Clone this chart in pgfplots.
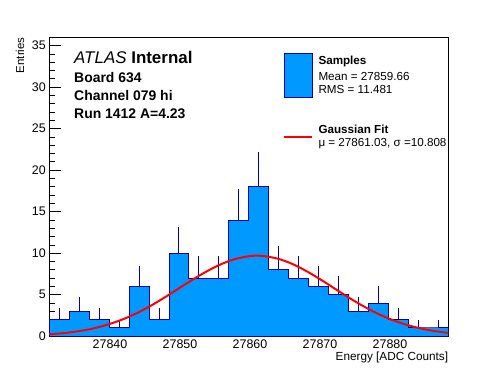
\documentclass[border=0pt]{standalone}
\usepackage{fontspec}
\setmainfont{Liberation Sans}
\usepackage{pgfplots}
\pgfplotsset{compat=1.18}
\definecolor{histfill}{RGB}{0,153,255}
\definecolor{histedge}{RGB}{0,0,170}
\begin{document}
\begin{tikzpicture}
\path[use as bounding box] (0,0) rectangle (498bp,374bp);
\begin{axis}[
  at={(49.3bp,37.7bp)}, anchor=south west, scale only axis,
  width=399bp, height=299bp,
  xmin=27831.33, xmax=27888.33, ymin=0, ymax=36,
  xtick={27840,27850,27860,27870,27880},
  minor x tick num=4,
  ytick={0,5,10,15,20,25,30,35},
  minor y tick num=4,
  scaled x ticks=false, scaled y ticks=false,
  tick align=inside, xtick pos=left, ytick pos=left,
  every major x tick/.append style={/pgfplots/major tick length=9bp},
  every minor x tick/.append style={/pgfplots/minor tick length=4.5bp},
  every major y tick/.append style={/pgfplots/major tick length=12bp},
  every minor y tick/.append style={/pgfplots/minor tick length=6bp},
  tick style={black, line width=0.8bp},
  axis line style={line width=0.8bp},
  ticklabel style={font=\fontsize{12.5}{14}\selectfont},
  xticklabel={\pgfmathprintnumber[fixed,precision=0,1000 sep={}]{\tick}},
  /pgf/number format/assume math mode=true,
  /pgf/number format/1000 sep={},
  clip=false,
]
\addplot[const plot, fill=histfill, draw=histedge, line width=1bp] coordinates {
(27831.33,2) (27834.18,3) (27837.03,2) (27839.88,1) (27842.73,6)
(27845.58,2) (27848.43,10) (27851.28,7) (27854.13,7) (27856.98,14)
(27859.83,18) (27862.68,8) (27865.53,7) (27868.38,6) (27871.23,5)
(27874.08,3) (27876.93,4) (27879.78,2) (27882.63,1) (27885.48,1)
(27888.33,1)} \closedcycle;
\addplot[draw=none, mark=none, forget plot,
  error bars/.cd, y dir=plus, y explicit, error mark=none,
  error bar style={draw=histedge, solid, line width=1bp}] coordinates {
(27832.755,2) +- (0,1.414)
(27835.605,3) +- (0,1.732)
(27838.455,2) +- (0,1.414)
(27841.305,1) +- (0,1)
(27844.155,6) +- (0,2.449)
(27847.005,2) +- (0,1.414)
(27849.855,10) +- (0,3.162)
(27852.705,7) +- (0,2.646)
(27855.555,7) +- (0,2.646)
(27858.405,14) +- (0,3.742)
(27861.255,18) +- (0,4.243)
(27864.105,8) +- (0,2.828)
(27866.955,7) +- (0,2.646)
(27869.805,6) +- (0,2.449)
(27872.655,5) +- (0,2.236)
(27875.505,3) +- (0,1.732)
(27878.355,4) +- (0,2)
(27881.205,2) +- (0,1.414)
(27884.055,1) +- (0,1)
(27886.905,1) +- (0,1)};
\addplot[red, line width=2bp, smooth, mark=none] coordinates {
(27831.33,0.25) (27832,0.28) (27834,0.44) (27836,0.68) (27838,1.02)
(27840,1.50) (27842,2.10) (27844,2.86) (27846,3.76) (27848,4.78)
(27850,5.86) (27852,6.92) (27854,7.90) (27856,8.73) (27858,9.33)
(27860,9.66) (27861.03,9.70) (27862,9.66) (27864,9.34) (27866,8.73)
(27868,7.88) (27870,6.88) (27872,5.80) (27874,4.72) (27876,3.72)
(27878,2.83) (27880,2.08) (27882,1.48) (27884,1.02) (27886,0.68)
(27888,0.44) (27888.33,0.41)};
\end{axis}
% axis titles
\node[rotate=90, anchor=base east, inner sep=0pt, font=\fontsize{11.5}{13}\selectfont] at (24bp,336.7bp) {Entries};
\node[anchor=base east, inner sep=0pt, font=\fontsize{11.8}{13}\selectfont] at (448.3bp,14bp) {Energy [ADC Counts]};
% ATLAS text
\node[anchor=base west, inner sep=0pt, font=\fontsize{17}{19}\selectfont] at (74bp,310.7bp) {\textit{ATLAS} \textbf{Internal}};
\node[anchor=base west, inner sep=0pt, font=\fontsize{14}{16}\selectfont\bfseries] at (74bp,291.7bp) {Board 634};
\node[anchor=base west, inner sep=0pt, font=\fontsize{14}{16}\selectfont\bfseries] at (74bp,273.5bp) {Channel 079 hi};
\node[anchor=base west, inner sep=0pt, font=\fontsize{14}{16}\selectfont\bfseries] at (74bp,255bp) {Run 1412 A=4.23};
% legend
\draw[fill=histfill, draw=histedge, line width=1bp] (284.3bp,276.7bp) rectangle (312.3bp,320bp);
\node[anchor=base west, inner sep=0pt, font=\fontsize{11.7}{13}\selectfont\bfseries] at (318.3bp,309.5bp) {Samples};
\node[anchor=base west, inner sep=0pt, font=\fontsize{11.7}{13}\selectfont] at (318.3bp,293.3bp) {Mean = 27859.66};
\node[anchor=base west, inner sep=0pt, font=\fontsize{11.7}{13}\selectfont] at (318.3bp,280bp) {RMS = 11.481};
\draw[red, line width=2bp] (284.3bp,237.3bp) -- (312.3bp,237.3bp);
\node[anchor=base west, inner sep=0pt, font=\fontsize{11.7}{13}\selectfont\bfseries] at (318.3bp,240.7bp) {Gaussian Fit};
\node[anchor=base west, inner sep=0pt, font=\fontsize{11.7}{13}\selectfont] at (318.3bp,227.3bp) {μ = 27861.03, σ =10.808};
\end{tikzpicture}
\end{document}
